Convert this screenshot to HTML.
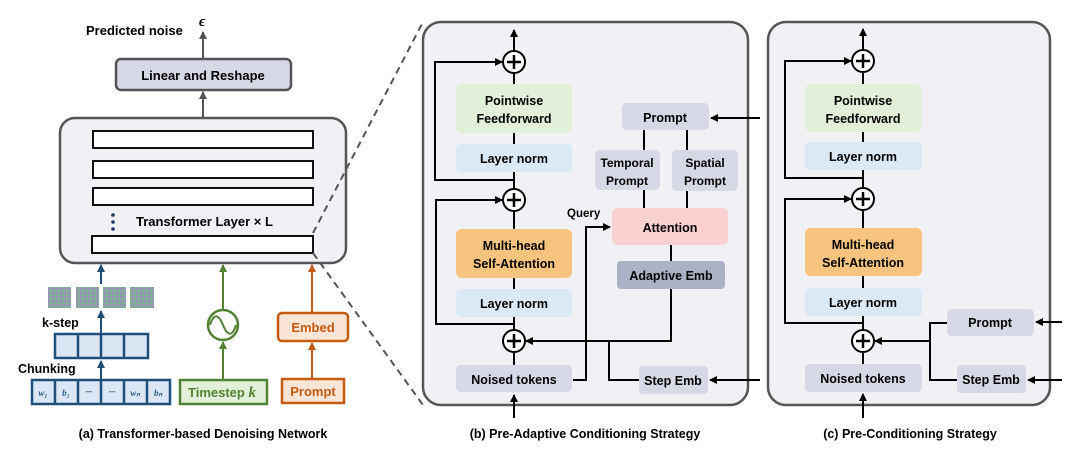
<!DOCTYPE html>
<html><head><meta charset="utf-8"><style>
html,body{margin:0;padding:0;background:#fff;}
svg{display:block;font-family:"Liberation Sans",sans-serif;font-weight:bold;}
</style></head><body>
<svg width="1080" height="456" viewBox="0 0 1080 456" xmlns="http://www.w3.org/2000/svg">
<defs>
<marker id="ak" markerWidth="8" markerHeight="8" refX="7" refY="4" orient="auto" markerUnits="userSpaceOnUse"><path d="M0,0 L8,4 L0,8z" fill="#000"/></marker>
<marker id="ag" markerWidth="8" markerHeight="8" refX="7" refY="4" orient="auto" markerUnits="userSpaceOnUse"><path d="M0,0 L8,4 L0,8z" fill="#555"/></marker>
<marker id="ab" markerWidth="8" markerHeight="8" refX="7" refY="4" orient="auto" markerUnits="userSpaceOnUse"><path d="M0,0 L8,4 L0,8z" fill="#1f4e79"/></marker>
<marker id="agr" markerWidth="8" markerHeight="8" refX="7" refY="4" orient="auto" markerUnits="userSpaceOnUse"><path d="M0,0 L8,4 L0,8z" fill="#548235"/></marker>
<marker id="ao" markerWidth="8" markerHeight="8" refX="7" refY="4" orient="auto" markerUnits="userSpaceOnUse"><path d="M0,0 L8,4 L0,8z" fill="#c55a11"/></marker>
<pattern id="nz" width="4" height="4" patternUnits="userSpaceOnUse"><rect width="4" height="4" fill="#8aa6a4"/><rect width="2" height="2" fill="#9a8fb8"/><rect x="2" y="2" width="2" height="2" fill="#7fb08f"/></pattern>
</defs>

<!-- Panel a -->
<text x="86" y="35" font-size="13">Predicted noise</text>
<text x="199" y="26" font-size="15" font-style="italic" font-family="Liberation Serif,serif">ϵ</text>
<line x1="203" y1="59" x2="203" y2="32" stroke="#555" stroke-width="2" marker-end="url(#ag)"/>
<rect x="116" y="59" width="175" height="31" rx="5" fill="#d6d8e6" stroke="#555" stroke-width="2.5"/>
<text x="203" y="80" font-size="13" text-anchor="middle">Linear and Reshape</text>
<line x1="203" y1="118" x2="203" y2="92" stroke="#555" stroke-width="2" marker-end="url(#ag)"/>
<rect x="60" y="118" width="286" height="145" rx="15" fill="#f0f0f5" stroke="#555" stroke-width="2.5"/>
<rect x="93" y="131" width="220" height="17" fill="#fff" stroke="#111" stroke-width="2"/>
<rect x="93" y="161" width="220" height="17" fill="#fff" stroke="#111" stroke-width="2"/>
<rect x="93" y="188" width="220" height="17" fill="#fff" stroke="#111" stroke-width="2"/>
<rect x="92" y="236" width="221" height="17" fill="#fff" stroke="#111" stroke-width="2"/>
<circle cx="113" cy="215" r="1.8" fill="#1f3864"/><circle cx="113" cy="222" r="1.8" fill="#1f3864"/><circle cx="113" cy="229" r="1.8" fill="#1f3864"/>
<text x="136" y="226" font-size="13">Transformer Layer × L</text>
<line x1="313" y1="233" x2="423" y2="22" stroke="#555" stroke-width="2" stroke-dasharray="7,5"/>
<line x1="313" y1="253" x2="423" y2="405" stroke="#555" stroke-width="2" stroke-dasharray="7,5"/>

<!-- blue -->
<line x1="101" y1="284" x2="101" y2="265" stroke="#1f4e79" stroke-width="2" marker-end="url(#ab)"/>
<rect x="48" y="287" width="23" height="21" fill="url(#nz)"/>
<rect x="76" y="287" width="23" height="21" fill="url(#nz)"/>
<rect x="103" y="287" width="23" height="21" fill="url(#nz)"/>
<rect x="130" y="287" width="24" height="21" fill="url(#nz)"/>
<line x1="101" y1="334" x2="101" y2="311" stroke="#1f4e79" stroke-width="2" marker-end="url(#ab)"/>
<text x="42" y="327" font-size="12.5">k-step</text>
<rect x="55" y="334" width="93" height="24" fill="#dbe7f4" stroke="#1f4e79" stroke-width="2.5"/>
<line x1="78" y1="334" x2="78" y2="358" stroke="#1f4e79" stroke-width="2.5"/>
<line x1="101" y1="334" x2="101" y2="358" stroke="#1f4e79" stroke-width="2.5"/>
<line x1="124" y1="334" x2="124" y2="358" stroke="#1f4e79" stroke-width="2.5"/>
<line x1="101" y1="380" x2="101" y2="361" stroke="#1f4e79" stroke-width="2" marker-end="url(#ab)"/>
<text x="18" y="373" font-size="12.5">Chunking</text>
<rect x="32" y="380" width="138" height="24" fill="#dbe7f4" stroke="#1f4e79" stroke-width="2.5"/>
<g stroke="#1f4e79" stroke-width="2.5"><line x1="55" y1="380" x2="55" y2="404"/><line x1="78" y1="380" x2="78" y2="404"/><line x1="101" y1="380" x2="101" y2="404"/><line x1="124" y1="380" x2="124" y2="404"/><line x1="147" y1="380" x2="147" y2="404"/></g>
<g font-size="9" fill="#2e5b8a" font-family="Liberation Serif,serif" font-style="italic" text-anchor="middle">
<text x="43" y="396">w₁</text><text x="66" y="396">b₁</text><text x="89" y="395">···</text><text x="112" y="395">···</text><text x="135" y="396">wₙ</text><text x="158" y="396">bₙ</text></g>

<!-- green -->
<line x1="223" y1="380" x2="223" y2="342" stroke="#548235" stroke-width="2" marker-end="url(#agr)"/>
<circle cx="223" cy="325" r="15" fill="#fff" stroke="#548235" stroke-width="2.5"/>
<path d="M210,325 C214,312 219,315 223,325 C227,335 232,338 236,325" fill="none" stroke="#548235" stroke-width="2"/>
<line x1="223" y1="310" x2="223" y2="265" stroke="#548235" stroke-width="2" marker-end="url(#agr)"/>
<rect x="180" y="380" width="87" height="24" fill="#e2efd9" stroke="#548235" stroke-width="2.5"/>
<text x="188" y="397" font-size="13" fill="#548235">Timestep <tspan font-family="Liberation Serif,serif" font-style="italic" font-size="15">k</tspan></text>

<!-- orange -->
<line x1="312" y1="379" x2="312" y2="343" stroke="#c55a11" stroke-width="2" marker-end="url(#ao)"/>
<rect x="278" y="313" width="70" height="28" rx="4" fill="#fbe5d6" stroke="#c55a11" stroke-width="2.5"/>
<text x="313" y="332" font-size="13" fill="#c55a11" text-anchor="middle">Embed</text>
<line x1="312" y1="313" x2="312" y2="265" stroke="#c55a11" stroke-width="2" marker-end="url(#ao)"/>
<rect x="282" y="379" width="62" height="24" fill="#fbe5d6" stroke="#c55a11" stroke-width="2.5"/>
<text x="313" y="396" font-size="13" fill="#c55a11" text-anchor="middle">Prompt</text>
<text x="203" y="438" font-size="12.5" text-anchor="middle">(a) Transformer-based Denoising Network</text>

<!-- Panel b -->
<rect x="423" y="22" width="325" height="383" rx="18" fill="#f0f0f5" stroke="#555" stroke-width="2.5"/>
<g stroke="#000" stroke-width="2" fill="none">
<line x1="514" y1="51" x2="514" y2="30" marker-end="url(#ak)"/>
<line x1="514" y1="73" x2="514" y2="84"/>
<line x1="514" y1="133" x2="514" y2="144"/>
<line x1="514" y1="172" x2="514" y2="189"/>
<line x1="514" y1="211" x2="514" y2="229"/>
<line x1="514" y1="278" x2="514" y2="289"/>
<line x1="514" y1="317" x2="514" y2="330"/>
<line x1="514" y1="352" x2="514" y2="365"/>
<line x1="514" y1="418" x2="514" y2="395" marker-end="url(#ak)"/>
<polyline points="514,180 435,180 435,62 502,62" marker-end="url(#ak)"/>
<polyline points="514,324 436,324 436,200 502,200" marker-end="url(#ak)"/>
<polyline points="573,380 586,380 586,227 610,227" marker-end="url(#ak)"/>
<polyline points="671,289 671,341 526,341" marker-end="url(#ak)"/>
<polyline points="639,380 609,380 609,341"/>
<line x1="760" y1="118" x2="711" y2="118" marker-end="url(#ak)"/>
<line x1="760" y1="380" x2="710" y2="380" marker-end="url(#ak)"/>
<line x1="644" y1="130" x2="644" y2="150"/><line x1="687" y1="130" x2="687" y2="150"/>
<line x1="644" y1="190" x2="644" y2="208"/><line x1="687" y1="191" x2="687" y2="208"/>
<line x1="671" y1="245" x2="671" y2="261"/>
</g>
<g stroke="#000" stroke-width="2" fill="#fff">
<circle cx="514" cy="62" r="11"/><circle cx="514" cy="200" r="11"/><circle cx="514" cy="341" r="11"/>
</g>
<g stroke="#000" stroke-width="2.5">
<line x1="507" y1="62" x2="521" y2="62"/><line x1="514" y1="55" x2="514" y2="69"/>
<line x1="507" y1="200" x2="521" y2="200"/><line x1="514" y1="193" x2="514" y2="207"/>
<line x1="507" y1="341" x2="521" y2="341"/><line x1="514" y1="334" x2="514" y2="348"/>
</g>
<rect x="456" y="84" width="116" height="49" rx="6" fill="#e2efd9"/>
<text x="514" y="105" font-size="12.5" text-anchor="middle">Pointwise</text>
<text x="514" y="123" font-size="12.5" text-anchor="middle">Feedforward</text>
<rect x="456" y="144" width="116" height="28" rx="5" fill="#dbe9f5"/>
<text x="514" y="163" font-size="12.5" text-anchor="middle">Layer norm</text>
<rect x="456" y="229" width="116" height="49" rx="6" fill="#f6c47e"/>
<text x="514" y="250" font-size="12.5" text-anchor="middle">Multi-head</text>
<text x="514" y="268" font-size="12.5" text-anchor="middle">Self-Attention</text>
<rect x="456" y="289" width="116" height="28" rx="5" fill="#dbe9f5"/>
<text x="514" y="308" font-size="12.5" text-anchor="middle">Layer norm</text>
<rect x="456" y="365" width="116" height="27" rx="5" fill="#d6d8e6"/>
<text x="514" y="384" font-size="12.5" text-anchor="middle">Noised tokens</text>
<rect x="622" y="103" width="87" height="27" rx="5" fill="#d6d8e6"/>
<text x="665" y="122" font-size="12.5" text-anchor="middle">Prompt</text>
<rect x="595" y="150" width="65" height="40" rx="5" fill="#d6d8e6"/>
<text x="627" y="167" font-size="12" text-anchor="middle">Temporal</text>
<text x="627" y="185" font-size="12" text-anchor="middle">Prompt</text>
<rect x="672" y="150" width="66" height="41" rx="5" fill="#d6d8e6"/>
<text x="705" y="167" font-size="12" text-anchor="middle">Spatial</text>
<text x="705" y="185" font-size="12" text-anchor="middle">Prompt</text>
<rect x="612" y="208" width="116" height="37" rx="6" fill="#fad0d0"/>
<text x="670" y="232" font-size="12.5" text-anchor="middle">Attention</text>
<rect x="617" y="261" width="108" height="28" rx="4" fill="#aab3c5"/>
<text x="671" y="280" font-size="12.5" text-anchor="middle">Adaptive Emb</text>
<rect x="639" y="366" width="69" height="28" rx="4" fill="#d6d8e6"/>
<text x="673" y="385" font-size="12.5" text-anchor="middle">Step Emb</text>
<text x="567" y="217" font-size="11.5">Query</text>
<text x="585" y="438" font-size="12.5" text-anchor="middle">(b) Pre-Adaptive Conditioning Strategy</text>

<!-- Panel c -->
<rect x="768" y="22" width="282" height="383" rx="18" fill="#f0f0f5" stroke="#555" stroke-width="2.5"/>
<g stroke="#000" stroke-width="2" fill="none">
<line x1="863" y1="50" x2="863" y2="29" marker-end="url(#ak)"/>
<line x1="863" y1="72" x2="863" y2="84"/>
<line x1="863" y1="132" x2="863" y2="142"/>
<line x1="863" y1="170" x2="863" y2="189"/>
<line x1="863" y1="211" x2="863" y2="228"/>
<line x1="863" y1="276" x2="863" y2="288"/>
<line x1="863" y1="316" x2="863" y2="330"/>
<line x1="863" y1="352" x2="863" y2="364"/>
<line x1="863" y1="418" x2="863" y2="394" marker-end="url(#ak)"/>
<polyline points="863,178 785,178 785,61 851,61" marker-end="url(#ak)"/>
<polyline points="863,323 785,323 785,199 851,199" marker-end="url(#ak)"/>
<polyline points="947,323 930,323 930,380 957,380"/>
<line x1="930" y1="341" x2="875" y2="341" marker-end="url(#ak)"/>
<line x1="1062" y1="322" x2="1036" y2="322" marker-end="url(#ak)"/>
<line x1="1062" y1="380" x2="1028" y2="380" marker-end="url(#ak)"/>
</g>
<g stroke="#000" stroke-width="2" fill="#fff">
<circle cx="863" cy="61" r="11"/><circle cx="863" cy="199" r="11"/><circle cx="863" cy="341" r="11"/>
</g>
<g stroke="#000" stroke-width="2.5">
<line x1="856" y1="61" x2="870" y2="61"/><line x1="863" y1="54" x2="863" y2="68"/>
<line x1="856" y1="199" x2="870" y2="199"/><line x1="863" y1="192" x2="863" y2="206"/>
<line x1="856" y1="341" x2="870" y2="341"/><line x1="863" y1="334" x2="863" y2="348"/>
</g>
<rect x="805" y="84" width="117" height="48" rx="6" fill="#e2efd9"/>
<text x="863" y="105" font-size="12.5" text-anchor="middle">Pointwise</text>
<text x="863" y="123" font-size="12.5" text-anchor="middle">Feedforward</text>
<rect x="805" y="142" width="117" height="28" rx="5" fill="#dbe9f5"/>
<text x="863" y="161" font-size="12.5" text-anchor="middle">Layer norm</text>
<rect x="805" y="228" width="117" height="48" rx="6" fill="#f6c47e"/>
<text x="863" y="249" font-size="12.5" text-anchor="middle">Multi-head</text>
<text x="863" y="267" font-size="12.5" text-anchor="middle">Self-Attention</text>
<rect x="805" y="288" width="117" height="28" rx="5" fill="#dbe9f5"/>
<text x="863" y="307" font-size="12.5" text-anchor="middle">Layer norm</text>
<rect x="805" y="364" width="117" height="28" rx="5" fill="#d6d8e6"/>
<text x="863" y="383" font-size="12.5" text-anchor="middle">Noised tokens</text>
<rect x="947" y="309" width="87" height="27" rx="5" fill="#d6d8e6"/>
<text x="990" y="327" font-size="12.5" text-anchor="middle">Prompt</text>
<rect x="957" y="365" width="69" height="28" rx="4" fill="#d6d8e6"/>
<text x="991" y="384" font-size="12.5" text-anchor="middle">Step Emb</text>
<text x="910" y="438" font-size="12.5" text-anchor="middle">(c) Pre-Conditioning Strategy</text>
</svg>
</body></html>
